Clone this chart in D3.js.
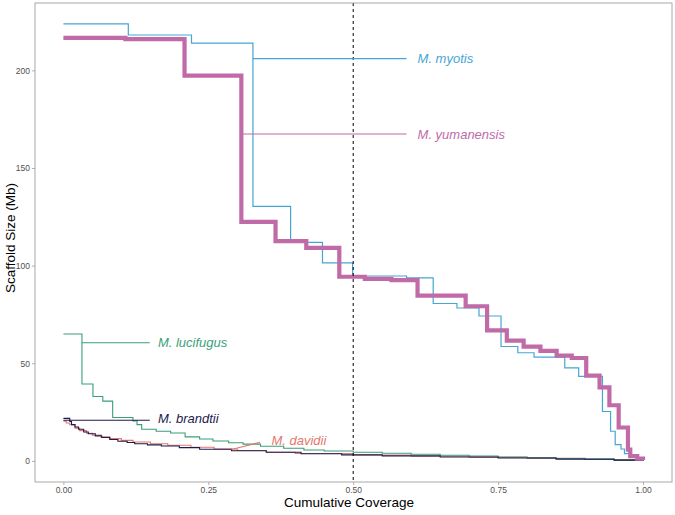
<!DOCTYPE html>
<html>
<head>
<meta charset="utf-8">
<script src="https://cdn.jsdelivr.net/npm/d3@7/dist/d3.min.js"></script>
<style>
  html, body { margin: 0; padding: 0; background: #fff; }
  svg { display: block; font-family: "Liberation Sans", Arial, Helvetica, sans-serif; }
</style>
</head>
<body>
<svg id="chart" width="675" height="515"></svg>
<script>
// ---------------- data ----------------
const speciesNames = ["M. davidii", "M. brandtii", "M. lucifugus", "M. myotis", "M. yumanensis"];

const davidiiCov  = [0, 0.005, 0.011, 0.02, 0.028, 0.04, 0.05, 0.065, 0.08, 0.1, 0.12, 0.15, 0.18, 0.22, 0.26, 0.3, 0.35, 0.4, 0.5, 0.6, 0.7, 0.8, 0.9, 1.0];
const davidiiSize = [20.3, 19.4, 18.5, 16.8, 15.5, 14.2, 13.2, 12.3, 11.4, 10.5, 9.7, 8.8, 8.0, 7.0, 6.1, 5.3, 4.4, 3.8, 3.0, 2.4, 1.8, 1.3, 0.7, 0.2];

const brandtiiCov  = [0, 0.011, 0.014, 0.02, 0.026, 0.035, 0.043, 0.055, 0.066, 0.08, 0.094, 0.11, 0.123, 0.145, 0.169, 0.2, 0.235, 0.29, 0.35, 0.41, 0.48, 0.55, 0.65, 0.75, 0.85, 0.95, 1.0];
const brandtiiSize = [21.8, 20.2, 18.6, 17.4, 16.2, 14.8, 13.9, 12.8, 12.0, 11.0, 10.1, 9.4, 8.8, 8.2, 7.6, 6.8, 6.0, 5.2, 4.4, 3.7, 3.1, 2.6, 2.0, 1.5, 0.9, 0.4, 0.1];

const lucifugusCov  = [0, 0.032, 0.051, 0.068, 0.085, 0.120, 0.127, 0.135, 0.160, 0.185, 0.210, 0.235, 0.258, 0.285, 0.310, 0.340, 0.380, 0.415, 0.450, 0.500, 0.550, 0.600, 0.650, 0.700, 0.750, 0.800, 0.850, 0.900, 0.950, 1.0];
const lucifugusSize = [65.0, 39.4, 33.0, 30.6, 22.2, 20.5, 18.6, 16.2, 15.2, 14.3, 12.3, 11.2, 10.2, 9.3, 8.6, 7.5, 6.5, 5.6, 5.1, 4.4, 3.9, 3.4, 2.9, 2.5, 2.0, 1.6, 1.2, 0.8, 0.4, 0.1];

const myotisCov  = [0, 0.112, 0.221, 0.327, 0.392, 0.447, 0.499, 0.592, 0.638, 0.679, 0.717, 0.755, 0.784, 0.812, 0.865, 0.889, 0.930, 0.944, 0.952, 0.962, 0.968, 0.980, 0.990, 1.0];
const myotisSize = [223.8, 218.1, 214.0, 130.4, 111.9, 101.4, 94.7, 93.7, 80.6, 78.3, 74.2, 58.6, 55.4, 53.2, 47.6, 43.3, 25.3, 15.2, 8.3, 6.1, 3.7, 1.8, 0.8, 0.3];

const yumanensisCov  = [0, 0.107, 0.209, 0.307, 0.366, 0.419, 0.476, 0.520, 0.566, 0.611, 0.694, 0.731, 0.765, 0.794, 0.823, 0.851, 0.877, 0.902, 0.925, 0.942, 0.958, 0.974, 0.978, 0.990, 1.0];
const yumanensisSize = [216.6, 216.0, 197.3, 122.4, 112.6, 109.1, 94.3, 93.2, 92.6, 84.6, 79.2, 66.8, 61.6, 58.5, 56.3, 53.9, 52.7, 43.7, 37.7, 28.5, 17.1, 5.8, 2.5, 1.2, 0.5];

// label leader: anchor point on the curve (coverage, size) -> label point
const labelAnchorCov  = [0.290, 0.000, 0.032, 0.327, 0.307];
const labelAnchorSize = [5.8, 20.8, 60.5, 206.0, 167.4];
const labelEndCov     = [0.339, 0.149, 0.149, 0.592, 0.592];
const labelEndSize    = [9.5, 20.8, 60.5, 206.0, 167.4];
const labelTextCov    = [0.359, 0.163, 0.163, 0.611, 0.611];
const labelTextSize   = [10.6, 21.5, 60.8, 206.3, 167.4];

const xTicks = [0, 0.25, 0.5, 0.75, 1.0];
const yTicks = [0, 50, 100, 150, 200];
const medianLine = 0.5;

// ---------------- styles ----------------
const colors = {
  "M. davidii": "#e3786d",
  "M. brandtii": "#1e1b4d",
  "M. lucifugus": "#3a9f77",
  "M. myotis": "#45a6d4",
  "M. yumanensis": "#c06aa8"
};
const widths = { "M. davidii": 1.1, "M. brandtii": 1.1, "M. lucifugus": 1.1, "M. myotis": 1.2, "M. yumanensis": 4.2 };

const series = [
  { name: "M. davidii", cov: davidiiCov, size: davidiiSize },
  { name: "M. lucifugus", cov: lucifugusCov, size: lucifugusSize },
  { name: "M. brandtii", cov: brandtiiCov, size: brandtiiSize },
  { name: "M. myotis", cov: myotisCov, size: myotisSize },
  { name: "M. yumanensis", cov: yumanensisCov, size: yumanensisSize }
];

// ---------------- layout ----------------
const svg = d3.select("#chart");
const panel = { left: 35, right: 672, top: 3, bottom: 482 };

const x = d3.scaleLinear().domain([-0.049, 1.05]).range([panel.left, panel.right]);
const y = d3.scaleLinear().domain([-10.8, 234.5]).range([panel.bottom, panel.top]);

svg.append("rect").attr("width", 675).attr("height", 515).attr("fill", "#fff");

// axes
const xAxis = d3.axisBottom(x).tickValues(xTicks).tickFormat(d3.format(".2f")).tickSize(3).tickPadding(2);
const yAxis = d3.axisLeft(y).tickValues(yTicks).tickFormat(d3.format("d")).tickSize(3).tickPadding(2);

const gx = svg.append("g").attr("transform", `translate(0,${panel.bottom})`).call(xAxis);
const gy = svg.append("g").attr("transform", `translate(${panel.left},0)`).call(yAxis);
[gx, gy].forEach(g => {
  g.select(".domain").remove();
  g.selectAll(".tick line").attr("stroke", "#9a9a9a").attr("stroke-width", 0.8);
  g.selectAll(".tick text").attr("fill", "#505050").style("font-size", "8.5px")
    .style("font-family", "'Liberation Sans', Arial, sans-serif");
});

// clip for panel
svg.append("clipPath").attr("id", "clip").append("rect")
  .attr("x", panel.left).attr("y", panel.top)
  .attr("width", panel.right - panel.left).attr("height", panel.bottom - panel.top);

const plot = svg.append("g").attr("clip-path", "url(#clip)");

const line = d3.line()
  .x(d => x(d[0]))
  .y(d => y(d[1]))
  .curve(d3.curveStepAfter);

series.forEach(s => {
  const pts = s.cov.map((c, i) => [c, s.size[i]]);
  plot.append("path")
    .datum(pts)
    .attr("d", line)
    .attr("fill", "none")
    .attr("stroke", colors[s.name])
    .attr("stroke-width", widths[s.name])
    .attr("stroke-linejoin", "miter")
    .attr("stroke-linecap", "butt");
});

// median dashed line
plot.append("line")
  .attr("x1", x(medianLine)).attr("x2", x(medianLine))
  .attr("y1", panel.top).attr("y2", panel.bottom)
  .attr("stroke", "#000").attr("stroke-width", 1)
  .attr("stroke-dasharray", "3,3");

// labels + leader segments
speciesNames.forEach((name, i) => {
  plot.append("line")
    .attr("x1", x(labelAnchorCov[i])).attr("y1", y(labelAnchorSize[i]))
    .attr("x2", x(labelEndCov[i])).attr("y2", y(labelEndSize[i]))
    .attr("stroke", colors[name]).attr("stroke-width", 1.1);
  plot.append("text")
    .attr("x", x(labelTextCov[i])).attr("y", y(labelTextSize[i]))
    .attr("dy", "0.35em")
    .attr("fill", colors[name])
    .style("font-size", "13px")
    .style("font-style", "italic")
    .text(name);
});

// panel border
svg.append("rect")
  .attr("x", panel.left).attr("y", panel.top)
  .attr("width", panel.right - panel.left).attr("height", panel.bottom - panel.top)
  .attr("fill", "none").attr("stroke", "#a8a8a8").attr("stroke-width", 1);

// axis titles
svg.append("text")
  .attr("x", 349).attr("y", 507)
  .attr("text-anchor", "middle")
  .attr("fill", "#000")
  .style("font-size", "13.5px")
  .text("Cumulative Coverage");

svg.append("text")
  .attr("transform", `translate(15,238) rotate(-90)`)
  .attr("text-anchor", "middle")
  .attr("fill", "#000")
  .style("font-size", "13.5px")
  .text("Scaffold Size (Mb)");
</script>
</body>
</html>
